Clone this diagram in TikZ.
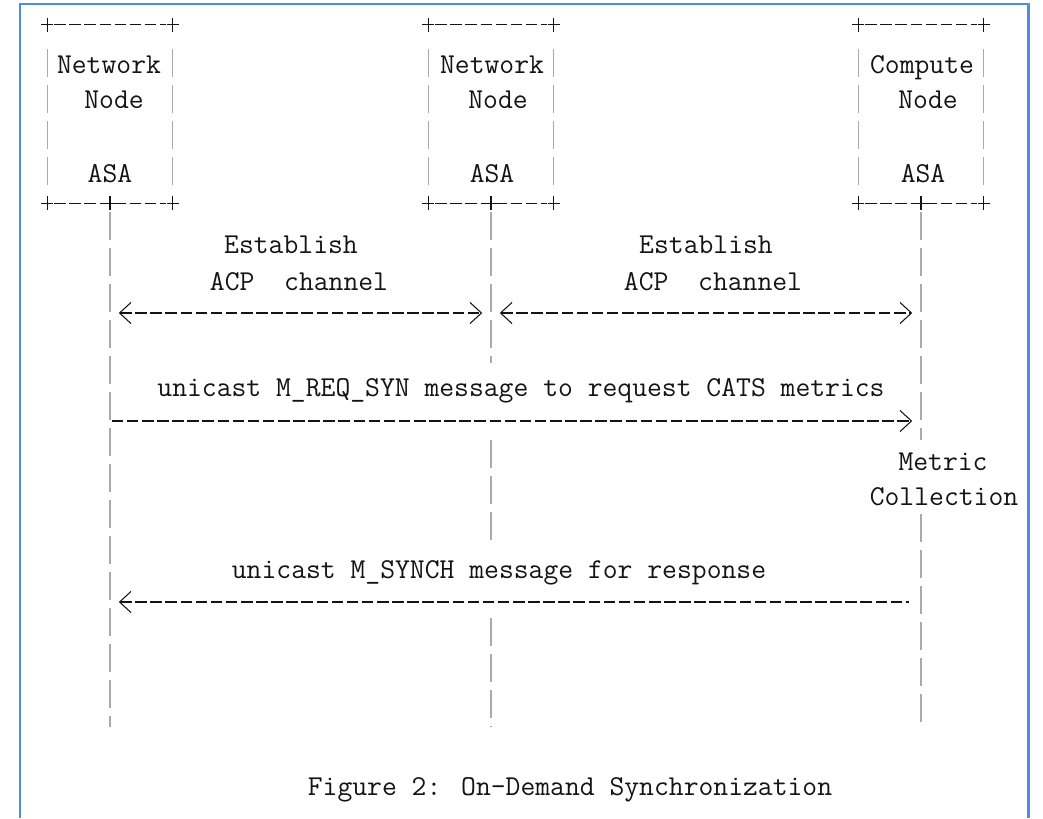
\documentclass[tikz,border=0pt]{standalone}
\usetikzlibrary{arrows.meta}
\definecolor{frameblue}{RGB}{74,144,218}
\definecolor{inkgray}{RGB}{20,20,20}
\definecolor{pipegray}{RGB}{170,170,170}

\begin{document}
\begin{tikzpicture}[x=0.02cm,y=-0.02cm,
  txt/.style={font=\fontsize{16.4}{20}\selectfont\ttfamily, text=inkgray, inner sep=0pt, anchor=base},
  asabox/.style={minimum width=2.5cm, minimum height=3.56cm, inner sep=0pt},
  pipe/.style={draw=pipegray, line width=0.7pt, dash pattern=on 16pt off 4.5pt},
  dashrule/.style={draw=inkgray, line width=0.7pt, dash pattern=on 6.6pt off 2pt},
  msg/.style={dashrule, shorten <=5pt, shorten >=5pt},
  barb/.tip={Straight Barb[length=6.5pt, width=12pt, line width=0.6pt]},
  crossmark/.pic={\draw[inkgray, line width=0.7pt] (-6,0) -- (6,0) (0,-7) -- (0,7);}]
\useasboundingbox (0,0) rectangle (1043,818);

% frame
\draw[frameblue, line width=1.7pt] (20,818) -- (20,4) -- (1028,4) -- (1028,818);

% boxes
\node[asabox] (nn1) at (110,114) {};
\node[asabox] (nn2) at (491,114) {};
\node[asabox] (cn) at (921,114) {};

% first box
\draw[dashrule, shorten <=4pt, shorten >=4pt] (nn1.north west) -- (nn1.north east);
\draw[dashrule, shorten <=4pt, shorten >=4pt] (nn1.south west) -- (nn1.south east);
\draw[pipe, shorten <=14pt, shorten >=10pt] (nn1.north west) -- (nn1.south west);
\draw[pipe, shorten <=14pt, shorten >=10pt] (nn1.north east) -- (nn1.south east);
\pic at (nn1.north west) {crossmark}; \pic at (nn1.north east) {crossmark};
\pic at (nn1.south west) {crossmark}; \pic at (nn1.south) {crossmark}; \pic at (nn1.south east) {crossmark};

% second box
\draw[dashrule, shorten <=4pt, shorten >=4pt] (nn2.north west) -- (nn2.north east);
\draw[dashrule, shorten <=4pt, shorten >=4pt] (nn2.south west) -- (nn2.south east);
\draw[pipe, shorten <=14pt, shorten >=10pt] (nn2.north west) -- (nn2.south west);
\draw[pipe, shorten <=14pt, shorten >=10pt] (nn2.north east) -- (nn2.south east);
\pic at (nn2.north west) {crossmark}; \pic at (nn2.north east) {crossmark};
\pic at (nn2.south west) {crossmark}; \pic at (nn2.south) {crossmark}; \pic at (nn2.south east) {crossmark};

% third box
\draw[dashrule, shorten <=4pt, shorten >=4pt] (cn.north west) -- (cn.north east);
\draw[dashrule, shorten <=4pt, shorten >=4pt] (cn.south west) -- (cn.south east);
\draw[pipe, shorten <=14pt, shorten >=10pt] (cn.north west) -- (cn.south west);
\draw[pipe, shorten <=14pt, shorten >=10pt] (cn.north east) -- (cn.south east);
\pic at (cn.north west) {crossmark}; \pic at (cn.north east) {crossmark};
\pic at (cn.south west) {crossmark}; \pic at (cn.south) {crossmark}; \pic at (cn.south east) {crossmark};

% box labels
\node[txt] (nn1a) at (109,73) {Network};
\node[txt] (nn1b) at (114,108) {Node};
\node[txt] (nn1c) at (110,182) {ASA};
\node[txt] (nn2a) at (492,73) {Network};
\node[txt] (nn2b) at (498,108) {Node};
\node[txt] (nn2c) at (492,182) {ASA};
\node[txt] (cna) at (922,73) {Compute};
\node[txt] (cnb) at (928,108) {Node};
\node[txt] (cnc) at (923,182) {ASA};

% lifelines
\coordinate (g1) at (0,363);
\coordinate (g2) at (0,440);
\coordinate (g3) at (0,543);
\coordinate (g4) at (0,618);
\coordinate (mc) at (0,514);
\coordinate (e1) at (0,727);
\draw[pipe, shorten <=5pt] (nn1.south) -- (nn1.south |- e1);
\draw[pipe, shorten <=5pt] (nn2.south) -- (nn2.south |- g1);
\draw[pipe] (nn2.south |- g2) -- (nn2.south |- g3);
\draw[pipe] (nn2.south |- g4) -- (nn2.south |- e1);
\draw[pipe, shorten <=5pt] (cn.south) -- (cn.south |- g2);
\draw[pipe] (cn.south |- mc) -- (cn.south |- e1);

% messages
\coordinate (r1) at (0,313);
\coordinate (r2) at (0,421);
\coordinate (r3) at (0,602);
\draw[msg, barb-barb] (nn1.south |- r1) -- (nn2.south |- r1);
\draw[msg, barb-barb] (nn2.south |- r1) -- (cn.south |- r1);
\draw[msg, -barb, shorten <=1pt] (nn1.south |- r2) -- (cn.south |- r2);
\draw[msg, barb-, shorten >=7pt] (nn1.south |- r3) -- (cn.south |- r3);

% message labels
\node[txt] (est1) at (291,253) {Establish};
\node[txt] (acp1) at (299,290) {ACP\ \ channel};
\node[txt] (est2) at (706,253) {Establish};
\node[txt] (acp2) at (713,290) {ACP\ \ channel};
\node[txt] (req) at (521,396) {unicast M\_REQ\_SYN message to request CATS metrics};
\node[txt] (met) at (943,470) {Metric};
\node[txt] (col) at (944,505) {Collection};
\node[txt] (rsp) at (499,578) {unicast M\_SYNCH message for response};

% caption
\node[txt] (cap) at (570,795) {Figure 2: On-Demand Synchronization};
\end{tikzpicture}
\end{document}
